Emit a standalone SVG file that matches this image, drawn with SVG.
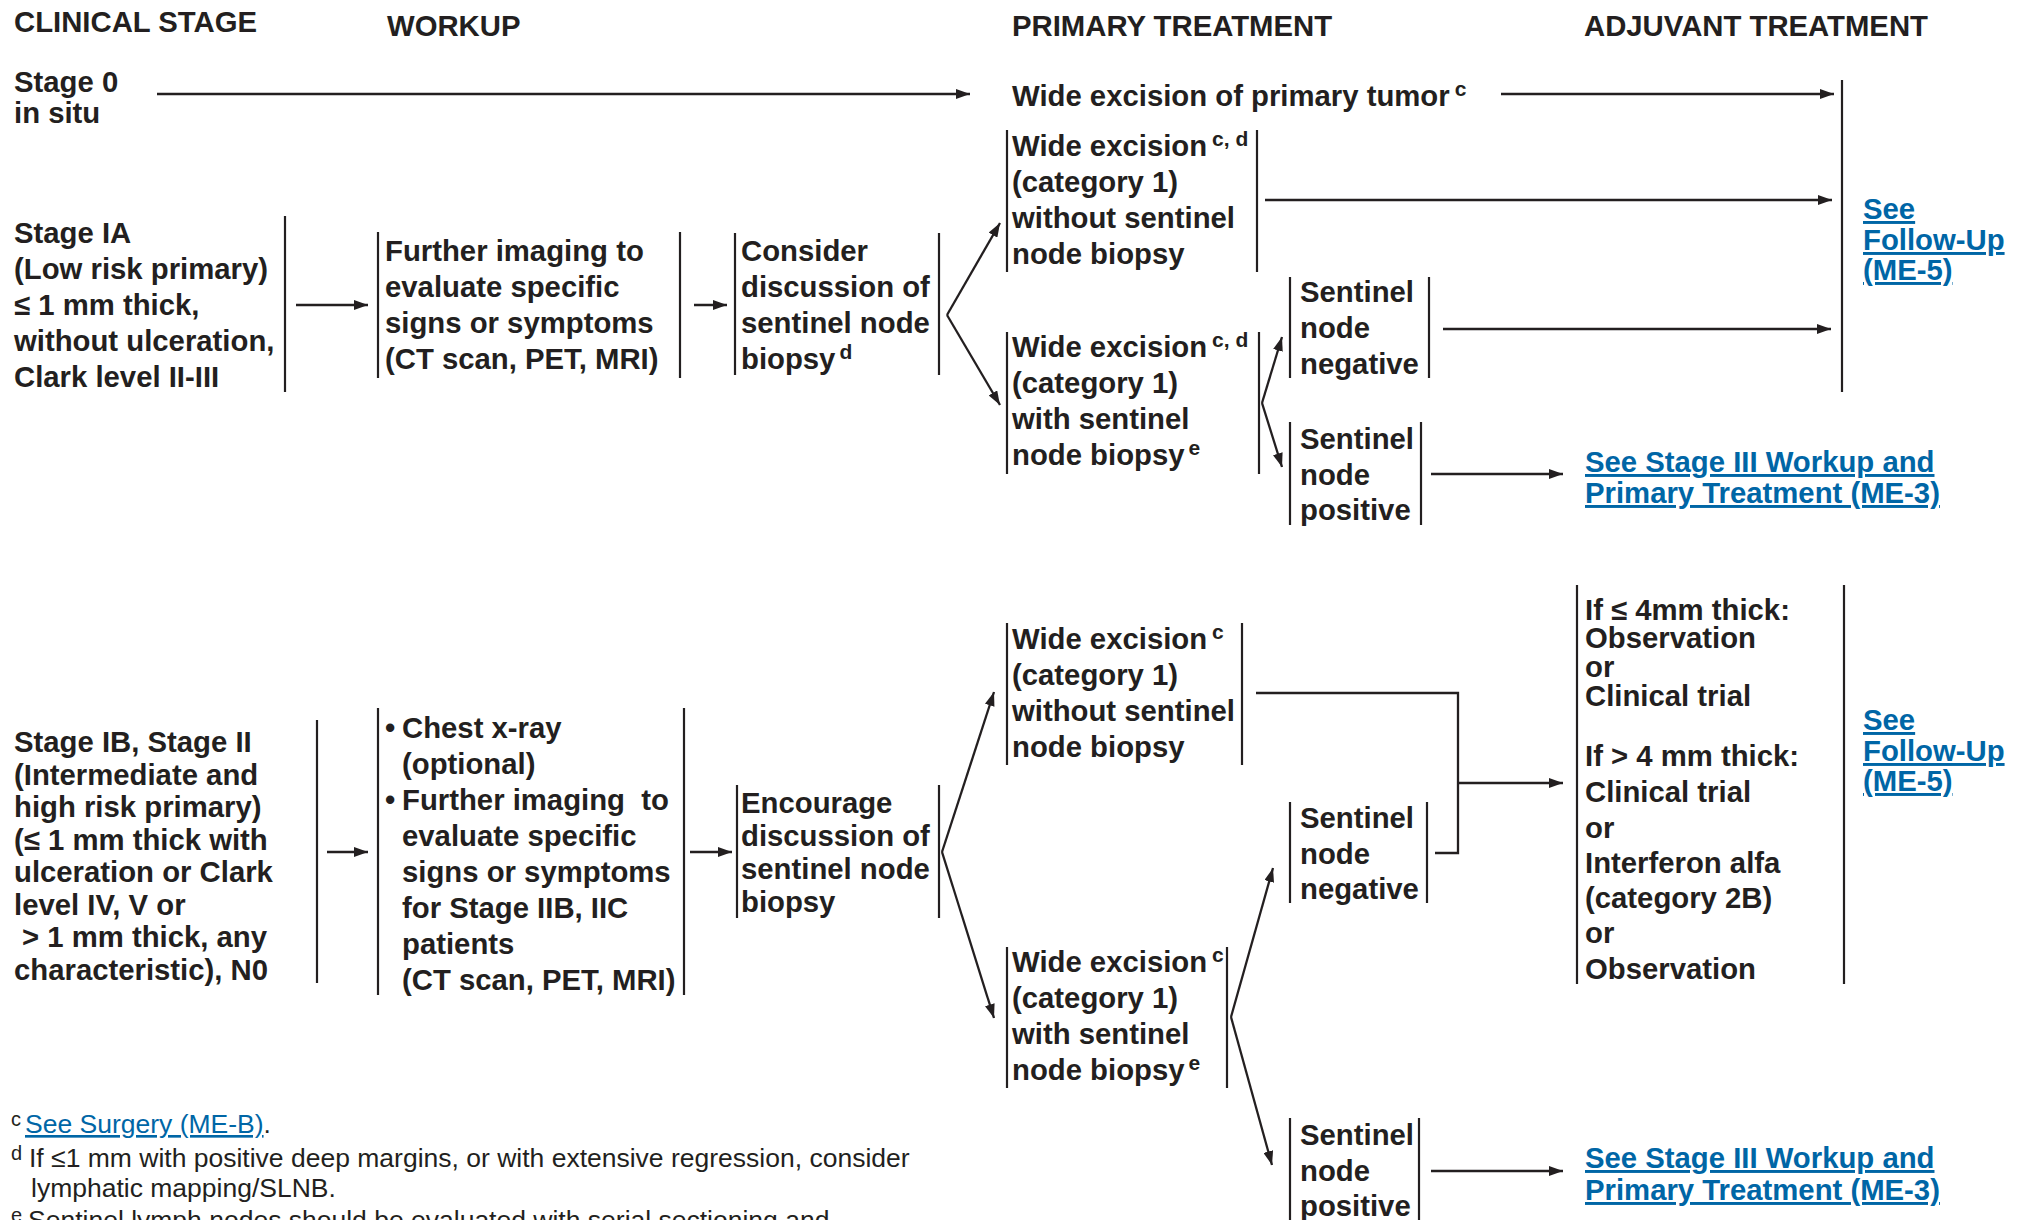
<svg xmlns="http://www.w3.org/2000/svg" width="2024" height="1220" viewBox="0 0 2024 1220">
<style>
  text { font-family: "Liberation Sans", Arial, Helvetica, sans-serif; font-weight: bold; font-size: 29.3px; fill: #231f20; }
  .sup { font-size: 21px; }
  .lk { fill: #0066a6; text-decoration: underline; }
  .fn { font-weight: normal; font-size: 26.5px; }
  .fs { font-weight: normal; font-size: 20px; }
  .pre { white-space: pre; }
  .bar { stroke: #231f20; stroke-width: 2.2; fill: none; }
  .ln { stroke: #231f20; stroke-width: 2.3; fill: none; }
  .ar { marker-end: url(#ah); }
</style>
<defs>
  <marker id="ah" viewBox="0 0 14 10" refX="14" refY="5" markerWidth="14" markerHeight="10" markerUnits="userSpaceOnUse" orient="auto">
    <path d="M0,0 L14,5 L0,10 z" fill="#231f20"/>
  </marker>
</defs>
<rect width="2024" height="1220" fill="#ffffff"/>

<g id="headers">
  <text x="14" y="32">CLINICAL STAGE</text>
  <text x="387" y="36">WORKUP</text>
  <text x="1012" y="36">PRIMARY TREATMENT</text>
  <text x="1584" y="36">ADJUVANT TREATMENT</text>
</g>

<!-- Stage 0 -->
<g id="stage0">
  <text x="14" y="92">Stage 0</text>
  <text x="14" y="123">in situ</text>
</g>
<g id="wide-excision-primary">
  <text x="1012" y="106">Wide excision of primary tumor<tspan class="sup" dx="5" dy="-10">c</tspan></text>
</g>

<!-- Stage IA -->
<g id="stageIA">
  <text x="14" y="243">Stage IA</text>
  <text x="14" y="279">(Low risk primary)</text>
  <text x="14" y="315">≤ 1 mm thick,</text>
  <text x="14" y="351">without ulceration,</text>
  <text x="14" y="387">Clark level II-III</text>
  <line class="bar" x1="285" y1="216" x2="285" y2="392"/>
</g>
<g id="workupIA">
  <line class="bar" x1="378" y1="232" x2="378" y2="378"/>
  <line class="bar" x1="680" y1="232" x2="680" y2="378"/>
  <text x="385" y="261">Further imaging to</text>
  <text x="385" y="297">evaluate specific</text>
  <text x="385" y="333">signs or symptoms</text>
  <text x="385" y="369">(CT scan, PET, MRI)</text>
</g>
<g id="considerIA">
  <line class="bar" x1="735" y1="233" x2="735" y2="375"/>
  <line class="bar" x1="939" y1="233" x2="939" y2="375"/>
  <text x="741" y="261">Consider</text>
  <text x="741" y="297">discussion of</text>
  <text x="741" y="333">sentinel node</text>
  <text x="741" y="369">biopsy<tspan class="sup" dx="4" dy="-10">d</tspan></text>
</g>
<g id="weNoSlnbIA">
  <line class="bar" x1="1007" y1="130" x2="1007" y2="272"/>
  <line class="bar" x1="1257" y1="130" x2="1257" y2="272"/>
  <text x="1012" y="156">Wide excision<tspan class="sup" dx="5" dy="-10">c, d</tspan></text>
  <text x="1012" y="192">(category 1)</text>
  <text x="1012" y="228">without sentinel</text>
  <text x="1012" y="264">node biopsy</text>
</g>
<g id="weSlnbIA">
  <line class="bar" x1="1007" y1="332" x2="1007" y2="474"/>
  <line class="bar" x1="1259" y1="332" x2="1259" y2="474"/>
  <text x="1012" y="357">Wide excision<tspan class="sup" dx="5" dy="-10">c, d</tspan></text>
  <text x="1012" y="393">(category 1)</text>
  <text x="1012" y="429">with sentinel</text>
  <text x="1012" y="465">node biopsy<tspan class="sup" dx="4" dy="-10">e</tspan></text>
</g>
<g id="snnIA">
  <line class="bar" x1="1290" y1="277" x2="1290" y2="378"/>
  <line class="bar" x1="1429" y1="277" x2="1429" y2="378"/>
  <text x="1300" y="302">Sentinel</text>
  <text x="1300" y="338">node</text>
  <text x="1300" y="374">negative</text>
</g>
<g id="snpIA">
  <line class="bar" x1="1290" y1="422" x2="1290" y2="525"/>
  <line class="bar" x1="1421" y1="422" x2="1421" y2="525"/>
  <text x="1300" y="449">Sentinel</text>
  <text x="1300" y="485">node</text>
  <text x="1300" y="520">positive</text>
</g>
<g id="followupIA">
  <line class="bar" x1="1842" y1="80" x2="1842" y2="392"/>
  <text class="lk" x="1863" y="219">See</text>
  <text class="lk" x="1863" y="250">Follow-Up</text>
  <text class="lk" x="1863" y="280">(ME-5)</text>
</g>
<g id="stageIIIIA">
  <text class="lk" x="1585" y="472">See Stage III Workup and</text>
  <text class="lk" x="1585" y="503">Primary Treatment (ME-3)</text>
</g>

<!-- Stage IB / II -->
<g id="stageIB">
  <text x="14" y="752">Stage IB, Stage II</text>
  <text x="14" y="784.5">(Intermediate and</text>
  <text x="14" y="817">high risk primary)</text>
  <text x="14" y="849.5">(≤ 1 mm thick with</text>
  <text x="14" y="882">ulceration or Clark</text>
  <text x="14" y="914.5">level IV, V or</text>
  <text x="22" y="947">&gt; 1 mm thick, any</text>
  <text x="14" y="979.5">characteristic), N0</text>
  <line class="bar" x1="317" y1="720" x2="317" y2="983"/>
</g>
<g id="workupIB">
  <line class="bar" x1="378" y1="708" x2="378" y2="995"/>
  <line class="bar" x1="684" y1="708" x2="684" y2="995"/>
  <text x="385" y="738">•</text>
  <text x="402" y="738">Chest x-ray</text>
  <text x="402" y="774">(optional)</text>
  <text x="385" y="810">•</text>
  <text class="pre" x="402" y="810">Further imaging  to</text>
  <text x="402" y="846">evaluate specific</text>
  <text x="402" y="882">signs or symptoms</text>
  <text x="402" y="918">for Stage IIB, IIC</text>
  <text x="402" y="954">patients</text>
  <text x="402" y="990">(CT scan, PET, MRI)</text>
</g>
<g id="encourageIB">
  <line class="bar" x1="737" y1="785" x2="737" y2="918"/>
  <line class="bar" x1="939" y1="785" x2="939" y2="918"/>
  <text x="741" y="813">Encourage</text>
  <text x="741" y="846">discussion of</text>
  <text x="741" y="879">sentinel node</text>
  <text x="741" y="912">biopsy</text>
</g>
<g id="weNoSlnbIB">
  <line class="bar" x1="1007" y1="623" x2="1007" y2="765"/>
  <line class="bar" x1="1242" y1="623" x2="1242" y2="765"/>
  <text x="1012" y="649">Wide excision<tspan class="sup" dx="5" dy="-10">c</tspan></text>
  <text x="1012" y="685">(category 1)</text>
  <text x="1012" y="721">without sentinel</text>
  <text x="1012" y="757">node biopsy</text>
</g>
<g id="snnIB">
  <line class="bar" x1="1290" y1="802" x2="1290" y2="903"/>
  <line class="bar" x1="1427" y1="802" x2="1427" y2="903"/>
  <text x="1300" y="828">Sentinel</text>
  <text x="1300" y="864">node</text>
  <text x="1300" y="899">negative</text>
</g>
<g id="weSlnbIB">
  <line class="bar" x1="1007" y1="947" x2="1007" y2="1088"/>
  <line class="bar" x1="1227" y1="947" x2="1227" y2="1088"/>
  <text x="1012" y="972">Wide excision<tspan class="sup" dx="5" dy="-10">c</tspan></text>
  <text x="1012" y="1008">(category 1)</text>
  <text x="1012" y="1044">with sentinel</text>
  <text x="1012" y="1080">node biopsy<tspan class="sup" dx="4" dy="-10">e</tspan></text>
</g>
<g id="snpIB">
  <line class="bar" x1="1290" y1="1118" x2="1290" y2="1222"/>
  <line class="bar" x1="1419" y1="1118" x2="1419" y2="1222"/>
  <text x="1300" y="1145">Sentinel</text>
  <text x="1300" y="1181">node</text>
  <text x="1300" y="1216">positive</text>
</g>
<g id="adjuvantIB">
  <line class="bar" x1="1577" y1="585" x2="1577" y2="984"/>
  <line class="bar" x1="1844" y1="585" x2="1844" y2="984"/>
  <text x="1585" y="620">If ≤ 4mm thick:</text>
  <text x="1585" y="648">Observation</text>
  <text x="1585" y="677">or</text>
  <text x="1585" y="706">Clinical trial</text>
  <text x="1585" y="766">If &gt; 4 mm thick:</text>
  <text x="1585" y="802">Clinical trial</text>
  <text x="1585" y="838">or</text>
  <text x="1585" y="873">Interferon alfa</text>
  <text x="1585" y="908">(category 2B)</text>
  <text x="1585" y="943">or</text>
  <text x="1585" y="979">Observation</text>
</g>
<g id="followupIB">
  <text class="lk" x="1863" y="730">See</text>
  <text class="lk" x="1863" y="761">Follow-Up</text>
  <text class="lk" x="1863" y="791">(ME-5)</text>
</g>
<g id="stageIIIIB">
  <text class="lk" x="1585" y="1168">See Stage III Workup and</text>
  <text class="lk" x="1585" y="1200">Primary Treatment (ME-3)</text>
</g>

<g id="connectors">
  <line class="ln ar" x1="157" y1="94" x2="970" y2="94"/>
  <line class="ln ar" x1="1501" y1="94" x2="1834" y2="94"/>
  <line class="ln ar" x1="296" y1="305" x2="368" y2="305"/>
  <line class="ln ar" x1="694" y1="305" x2="727" y2="305"/>
  <line class="ln ar" x1="947" y1="315" x2="1000" y2="223"/>
  <line class="ln ar" x1="947" y1="315" x2="1000" y2="405"/>
  <line class="ln ar" x1="1265" y1="200" x2="1832" y2="200"/>
  <line class="ln ar" x1="1262" y1="403" x2="1282" y2="337"/>
  <line class="ln ar" x1="1262" y1="403" x2="1282" y2="467"/>
  <line class="ln ar" x1="1443" y1="329" x2="1831" y2="329"/>
  <line class="ln ar" x1="1431" y1="474" x2="1563" y2="474"/>

  <line class="ln ar" x1="327" y1="852" x2="368" y2="852"/>
  <line class="ln ar" x1="690" y1="852" x2="732" y2="852"/>
  <line class="ln ar" x1="942" y1="852" x2="994" y2="692"/>
  <line class="ln ar" x1="942" y1="852" x2="994" y2="1018"/>
  <polyline class="ln" points="1256,693 1458,693 1458,853 1435,853"/>
  <line class="ln ar" x1="1458" y1="783" x2="1563" y2="783"/>
  <line class="ln ar" x1="1231" y1="1017" x2="1273" y2="868"/>
  <line class="ln ar" x1="1231" y1="1017" x2="1272" y2="1165"/>
  <line class="ln ar" x1="1431" y1="1171" x2="1563" y2="1171"/>
</g>

<g id="footnotes">
  <text class="fs" x="11" y="1126">c</text>
  <text class="fn" x="25" y="1133"><tspan class="lk">See Surgery (ME-B)</tspan>.</text>
  <text class="fs" x="11" y="1160">d</text>
  <text class="fn" x="29" y="1167">If ≤1 mm with positive deep margins, or with extensive regression, consider</text>
  <text class="fn" x="31" y="1197">lymphatic mapping/SLNB.</text>
  <text class="fs" x="11" y="1222">e</text>
  <text class="fn" x="28" y="1229">Sentinel lymph nodes should be evaluated with serial sectioning and</text>
</g>
</svg>
